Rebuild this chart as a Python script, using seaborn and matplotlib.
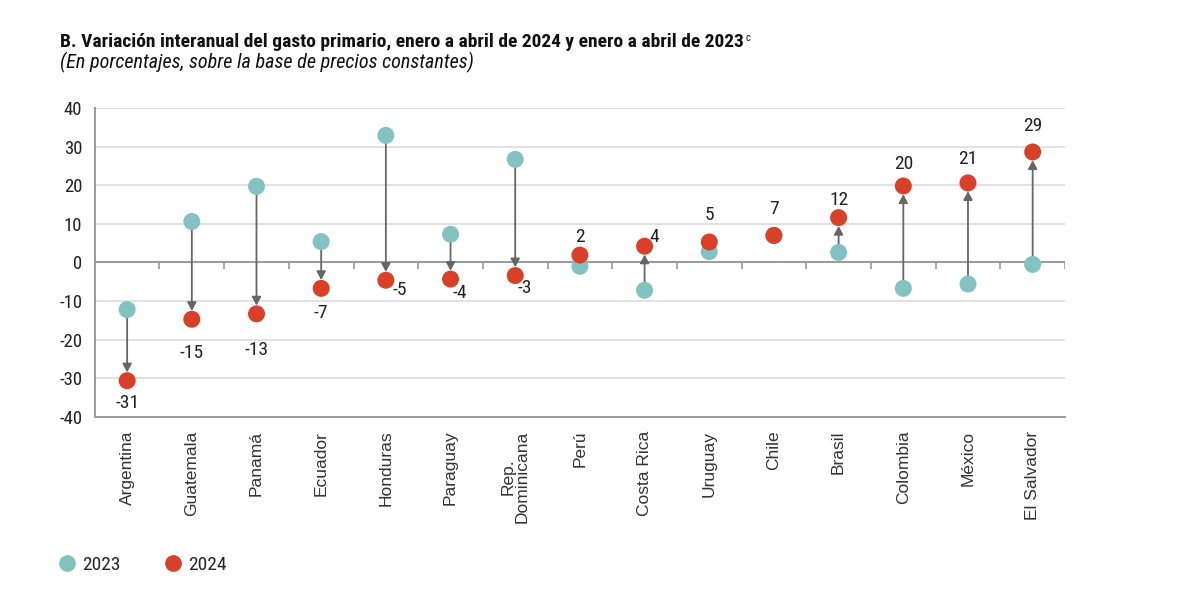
"""Variación interanual del gasto primario: dumbbell chart 2023 vs 2024."""

import matplotlib
matplotlib.use("Agg")
import matplotlib.pyplot as plt
import numpy as np
import pandas as pd
import seaborn as sns
from matplotlib.lines import Line2D

countries = ["Argentina", "Guatemala", "Panamá", "Ecuador", "Honduras", "Paraguay",
             "Rep.\nDominicana", "Perú", "Costa Rica", "Uruguay", "Chile", "Brasil",
             "Colombia", "México", "El Salvador"]
val_2023 = [-12.2, 10.6, 19.7, 5.4, 32.9, 7.3, 26.7, -1.0, -7.2, 2.8, 7.0, 2.6, -6.7, -5.6, -0.5]
val_2024 = [-30.6, -14.7, -13.3, -6.7, -4.6, -4.3, -3.4, 1.9, 4.2, 5.3, 7.0, 11.6, 19.8, 20.6, 28.6]
y_ticks = [-40, -30, -20, -10, 0, 10, 20, 30, 40]

C23 = "#82c3c2"
C24 = "#d8402a"
GRID = "#dcdcdc"
AXIS = "#9a9a9a"
COND = ["Roboto Condensed", "Barlow Condensed", "DejaVu Sans"]

sns.set_style("white")
plt.rcParams["font.family"] = ["Liberation Sans", "DejaVu Sans"]

df = pd.DataFrame({
    "pais": countries * 2,
    "x": list(range(len(countries))) * 2,
    "valor": val_2023 + val_2024,
    "año": ["2023"] * len(countries) + ["2024"] * len(countries),
})

fig = plt.figure(figsize=(12, 6.03), dpi=100)
ax = fig.add_axes([0.079, 0.3085, 0.8085, 0.5125])

# arrows from 2023 to 2024 (skipped when the change is tiny)
for i, (a, b) in enumerate(zip(val_2023, val_2024)):
    if abs(b - a) < 5:
        continue
    ax.annotate("", xy=(i, b), xytext=(i, a),
                arrowprops=dict(arrowstyle="-|>,head_length=0.5,head_width=0.27",
                                color="#666666", lw=1.3, shrinkA=0, shrinkB=6),
                zorder=2)

sns.scatterplot(data=df, x="x", y="valor", hue="año", palette={"2023": C23, "2024": C24},
                s=150, edgecolor="none", legend=False, ax=ax, zorder=3)

# value labels for 2024 (offsets in points, tuned per country)
offsets = {"Argentina": (0, -16), "Guatemala": (0, -24.5), "Panamá": (0, -26),
           "Ecuador": (0, -18), "Honduras": (10, -7), "Paraguay": (6.5, -10),
           "Rep.\nDominicana": (7, -9), "Perú": (0, 13), "Costa Rica": (7, 7),
           "Uruguay": (0, 19.5), "Chile": (0, 19), "Brasil": (0, 13), "Colombia": (0, 16),
           "México": (0, 17), "El Salvador": (0, 19)}
for i, (c, v) in enumerate(zip(countries, val_2024)):
    ax.annotate(f"{round(v):d}", (i, v), xytext=offsets[c], textcoords="offset points",
                ha="center", va="center", fontsize=14, family=COND, color="#222")

ax.set_xlim(-0.5, len(countries) - 0.5)
ax.set_ylim(-40, 40)
ax.set_yticks(y_ticks)
ax.set_yticklabels([str(t) for t in y_ticks], family=COND, fontsize=13.5, color="#222")
for t in y_ticks:
    if t not in (0, -40):
        ax.axhline(t, color=GRID, lw=1.2, zorder=0)
ax.axhline(0, color=AXIS, lw=1.4, zorder=1)
bounds = np.arange(len(countries) + 1) - 0.5
ax.vlines(bounds[1:], -1.6, 0, color=AXIS, lw=1.2, zorder=1)

ax.set_xticks(range(len(countries)))
ax.set_xticklabels(countries, rotation=90, fontsize=12.5, color="#333", linespacing=0.95)
ax.set_xticks(bounds, minor=True)
ax.tick_params(axis="x", which="major", length=0, pad=10)
ax.tick_params(axis="x", which="minor", length=6, color=AXIS, width=1.2, direction="out")
ax.tick_params(axis="y", length=5, color=AXIS, width=1.2, direction="out", pad=4)
ax.set_xlabel("")
ax.set_ylabel("")
for s in ["top", "right"]:
    ax.spines[s].set_visible(False)
for s in ["left", "bottom"]:
    ax.spines[s].set_color(AXIS)
    ax.spines[s].set_linewidth(1.4)

title = fig.text(0.05, 0.93, "B. Variación interanual del gasto primario, enero a abril de 2024 y enero a abril de 2023",
                 fontsize=14, fontweight="bold", family=COND, color="#111", va="center")
fig.text(0.05, 0.896, "(En porcentajes, sobre la base de precios constantes)",
         fontsize=14.5, style="italic", family=COND, color="#111", va="center")
fig.canvas.draw()
ax.annotate("c", xy=(1, 0.75), xycoords=title, xytext=(1.5, 0), textcoords="offset points",
            fontsize=7.5, family=COND, color="#111", va="center", ha="left", annotation_clip=False)

handles = [Line2D([], [], marker="o", ls="", color=C23, markersize=11, label="2023"),
           Line2D([], [], marker="o", ls="", color=C24, markersize=11, label="2024")]
fig.legend(handles=handles, loc="center left", bbox_to_anchor=(0.048, 0.063), ncol=2,
           frameon=False, borderpad=0, borderaxespad=0, handlelength=1.0,
           handletextpad=0.26, columnspacing=2.2, prop={"family": COND, "size": 14})

fig.savefig("out.png", dpi=100, facecolor="white")
